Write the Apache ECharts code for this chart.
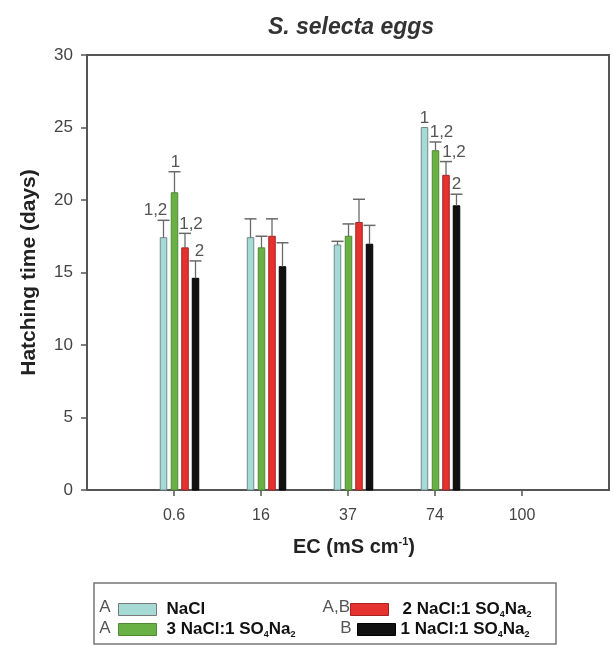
<!DOCTYPE html>
<html>
<head>
<meta charset="utf-8">
<script src="https://cdn.jsdelivr.net/npm/echarts@6/dist/echarts.min.js"></script>
<style>
  html, body { margin: 0; padding: 0; background: #fff; }
  #chart { width: 613px; height: 648px; }
</style>
</head>
<body>
<div id="chart"></div>
<script>
// EC levels (mS cm-1) along the x axis, one slot per level
const ecLevels = ['0.6', '16', '37', '74', '100'];
const yTicks = [0, 5, 10, 15, 20, 25, 30];

// Mean hatching time (days) per salt mixture; no data at EC 100
const naclMean   = [17.4, 17.4, 16.9, 25.0];
const mix3Mean   = [20.5, 16.7, 17.5, 23.4];
const mix2Mean   = [16.7, 17.5, 18.45, 21.7];
const mix1Mean   = [14.6, 15.4, 16.95, 19.6];

// Standard error (days)
const naclErr = [1.2, 1.3, 0.25, 0];
const mix3Err = [1.45, 0.8, 0.85, 0.6];
const mix2Err = [1.0, 1.2, 1.6, 0.95];
const mix1Err = [1.2, 1.65, 1.3, 0.8];

// Homogeneous-group marks above the bars
const naclMarks = ['1,2', '', '', '1'];
const mix3Marks = ['1', '', '', '1,2'];
const mix2Marks = ['1,2', '', '', '1,2'];
const mix1Marks = ['2', '', '', '2'];

// Letters for overall differences between mixtures
const groupLetters = ['A', 'A', 'A,B', 'B'];
const seriesNames = ['NaCl', '3 NaCl:1 SO4Na2', '2 NaCl:1 SO4Na2', '1 NaCl:1 SO4Na2'];

// Drawing styles
const FONT = 'Liberation Sans, Arial, sans-serif';
const fills   = ['#a6dad5', '#69b144', '#e5322f', '#111111'];
const borders = ['#6f8c8a', '#4f8a33', '#a82222', '#000000'];
const barOffsetPx = [-10.5, 0.5, 11, 21.5];   // bar centre relative to tick
const barWidthPx = 6.5;
const markShiftPx = [[-8, 0, 0, 0], [1, 0, 0, 6], [6, 0, 0, 8], [4, 0, 0, 0]];

function barSeries(k, means, errs, marks) {
  return {
    type: 'custom',
    name: seriesNames[k],
    itemStyle: { color: fills[k], borderColor: borders[k], borderWidth: 1 },
    data: means.map((v, i) => [i + 1, v, errs[i]]),
    renderItem: function (params, api) {
      const i = params.dataIndex;
      const x = api.value(0), v = api.value(1), e = api.value(2);
      const base = api.coord([x, 0]);
      const top = api.coord([x, v]);
      const cap = api.coord([x, v + e]);
      const cx = top[0] + barOffsetPx[k];
      const children = [{
        type: 'rect',
        shape: { x: cx - barWidthPx / 2, y: top[1], width: barWidthPx, height: base[1] - top[1] },
        style: { fill: fills[k], stroke: borders[k], lineWidth: 1 }
      }];
      if (e > 0) {
        children.push({
          type: 'line',
          shape: { x1: cx, y1: top[1], x2: cx, y2: cap[1] },
          style: { stroke: '#6a6a6a', lineWidth: 1.3 }
        }, {
          type: 'line',
          shape: { x1: cx - 6, y1: cap[1], x2: cx + 6, y2: cap[1] },
          style: { stroke: '#6a6a6a', lineWidth: 1.5 }
        });
      }
      if (marks[i]) {
        children.push({
          type: 'text',
          x: cx + markShiftPx[k][i],
          y: cap[1] - 1,
          style: {
            text: marks[i], align: 'center', verticalAlign: 'bottom',
            fontFamily: FONT, fontSize: 17, fill: '#555'
          }
        });
      }
      return { type: 'group', children: children };
    }
  };
}

function legendFor(k, left, top, textPad) {
  return {
    data: [{ name: seriesNames[k], icon: 'rect' }],
    left: left - 5, top: top,
    itemWidth: 38, itemHeight: 12,
    selectedMode: false,
    itemStyle: { borderColor: k === 0 ? '#7a7a7a' : borders[k], borderWidth: 1 },
    formatter: function (name) {
      return name.replace(/SO4Na2/, 'SO{sub|4}Na{sub|2}');
    },
    textStyle: {
      fontFamily: FONT, fontSize: 17, fontWeight: 'bold', color: '#111',
      padding: [0, 0, 0, textPad],
      rich: { sub: { fontFamily: FONT, fontSize: 9, fontWeight: 'bold', color: '#111', padding: [10, 0, 0, 0] } }
    }
  };
}

const chart = echarts.init(document.getElementById('chart'), null, { renderer: 'canvas' });
const letterStyle = { fontFamily: FONT, fontSize: 17, fill: '#555' };

chart.setOption({
  backgroundColor: '#fff',
  animation: false,
  title: {
    text: 'S. selecta eggs',
    left: 346, top: 11, textAlign: 'center',
    textStyle: { fontFamily: FONT, fontSize: 23, fontWeight: 'bold', fontStyle: 'italic', color: '#333' }
  },
  grid: { left: 87, right: 4, top: 55, bottom: 158, show: true, borderColor: '#555', borderWidth: 2, backgroundColor: 'transparent' },
  xAxis: {
    type: 'value', min: 0, max: 6, interval: 1,
    name: 'EC (mS cm{sup|-1})', nameLocation: 'middle', nameGap: 46,
    nameTextStyle: {
      fontFamily: FONT, fontSize: 20, fontWeight: 'bold', color: '#222',
      padding: [0, 0, 0, 12],
      rich: { sup: { fontFamily: FONT, fontSize: 11, fontWeight: 'bold', color: '#222', padding: [0, 0, 11, 0] } }
    },
    axisLine: { show: true, lineStyle: { color: '#555', width: 2 } },
    axisTick: { show: true, inside: false, length: 6, lineStyle: { color: '#555', width: 1.5 }, customValues: [1, 2, 3, 4, 5] },
    axisLabel: {
      customValues: [1, 2, 3, 4, 5],
      formatter: v => ecLevels[v - 1] || '',
      margin: 18, fontFamily: FONT, fontSize: 16, color: '#444'
    },
    splitLine: { show: false }
  },
  yAxis: {
    type: 'value', min: yTicks[0], max: yTicks[yTicks.length - 1], interval: 5,
    name: 'Hatching time (days)', nameLocation: 'middle', nameGap: 47,
    nameTextStyle: { fontFamily: FONT, fontSize: 21, fontWeight: 'bold', color: '#222' },
    axisLine: { show: true, lineStyle: { color: '#555', width: 2 } },
    axisTick: { show: true, inside: false, length: 6, lineStyle: { color: '#555', width: 1.5 } },
    axisLabel: { margin: 14, fontFamily: FONT, fontSize: 17, color: '#444' },
    splitLine: { show: false }
  },
  legend: [
    legendFor(0, 118, 596, 5),
    legendFor(1, 118, 616, 5),
    legendFor(2, 350, 596, 9),
    legendFor(3, 357, 616, 0)
  ],
  graphic: [
    { type: 'rect', shape: { x: 94, y: 583, width: 462, height: 61 }, style: { fill: 'none', stroke: '#777', lineWidth: 1.5 }, silent: true },
    { type: 'text', x: 105, y: 607, style: Object.assign({ text: groupLetters[0], align: 'center', verticalAlign: 'middle' }, letterStyle) },
    { type: 'text', x: 105, y: 628, style: Object.assign({ text: groupLetters[1], align: 'center', verticalAlign: 'middle' }, letterStyle) },
    { type: 'text', x: 350, y: 607, style: Object.assign({ text: groupLetters[2], align: 'right', verticalAlign: 'middle' }, letterStyle) },
    { type: 'text', x: 346, y: 628, style: Object.assign({ text: groupLetters[3], align: 'center', verticalAlign: 'middle' }, letterStyle) }
  ],
  series: [
    barSeries(0, naclMean, naclErr, naclMarks),
    barSeries(1, mix3Mean, mix3Err, mix3Marks),
    barSeries(2, mix2Mean, mix2Err, mix2Marks),
    barSeries(3, mix1Mean, mix1Err, mix1Marks)
  ]
});
</script>
</body>
</html>
